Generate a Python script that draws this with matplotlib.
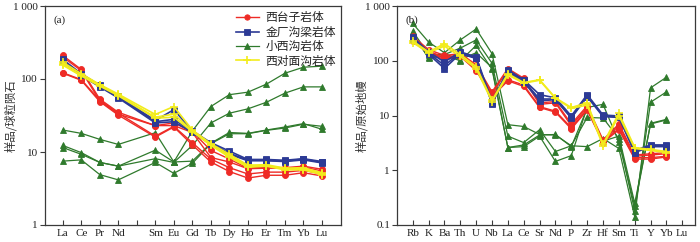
import matplotlib
matplotlib.use("Agg")
import matplotlib.pyplot as plt
from matplotlib.lines import Line2D

# ---------------- data ----------------
ree_ticks = ['La', 'Ce', 'Pr', 'Nd', '', 'Sm', 'Eu', 'Gd', 'Tb', 'Dy', 'Ho', 'Er', 'Tm', 'Yb', 'Lu']
ree_elems = ['La', 'Ce', 'Pr', 'Nd', 'Sm', 'Eu', 'Gd', 'Tb', 'Dy', 'Ho', 'Er', 'Tm', 'Yb', 'Lu']

ree_xitaizi = [
    [210, 135, 53, 35, 23, 25, 19, 10.5, 8.0, 6.0, 6.2, 6.1, 6.4, 5.8],
    [200, 130, 50, 33, 23, 23, 18.5, 8.4, 7.3, 5.9, 6.0, 6.0, 6.2, 5.5],
    [122, 98, 51, 34, 16.5, 22.5, 13.4, 8.0, 6.1, 5.0, 5.3, 5.3, 5.6, 5.0],
    [120, 96, 49, 32, 16, 22, 12.5, 7.3, 5.4, 4.4, 4.8, 4.8, 5.2, 4.7],
]
ree_jinchang = [
    [185, 118, 82, 58, 27, 38, 19.5, 13.4, 10.3, 7.9, 7.9, 7.7, 8.1, 7.4],
    [180, 115, 80, 56, 26, 28, 19, 13, 9.6, 7.7, 7.7, 7.5, 8.0, 7.2],
    [175, 112, 78, 55, 25, 26, 18.5, 12.8, 9.3, 7.6, 7.6, 7.4, 7.8, 7.1],
]
ree_xiaoxigou = [
    [12.3, 9.8, 7.2, 6.4, 10.6, 7.3, 19.4, 42, 61, 66, 85, 120, 145, 150],
    [11.5, 9.3, 7.2, 6.4, 8.1, 7.2, 12.3, 25, 34, 39, 48, 64, 78, 78],
    [20, 18, 14.9, 12.7, 18.4, 7.3, 7.5, 13.2, 18.5, 18, 20, 22, 24.5, 20.5],
    [7.5, 7.8, 4.9, 4.15, 7.2, 5.1, 7.0, 13, 17.8, 17.8, 19.8, 21.3, 24, 22.5],
]
ree_xiduimian = [
    [170, 118, 84, 62, 32.7, 42, 20, 13, 9.3, 6.6, 6.7, 6.0, 6.1, 5.2],
    [160, 112, 82, 60, 30, 33, 19.5, 12.5, 8.8, 6.4, 6.5, 5.8, 5.9, 5.0],
    [155, 110, 80, 59, 29, 30, 19, 12.3, 8.5, 6.2, 6.4, 5.7, 5.7, 4.9],
]

spd_ticks = ['Rb', 'K', 'Ba', 'Th', 'U', 'Nb', 'La', 'Ce', 'Sr', 'Nd', 'P', 'Zr', 'Hf', 'Sm', 'Ti', 'Y', 'Yb', 'Lu']
spd_elems = ['Rb', 'K', 'Ba', 'Th', 'U', 'Nb', 'La', 'Ce', 'Sr', 'Nd', 'P', 'Zr', 'Hf', 'Sm', 'Ti', 'Y', 'Yb']

spd_xitaizi = [
    [280, 160, 125, 135, 85, 27, 72, 48, 17, 18, 7, 15, 3.6, 7, 1.9, 2.0, 2.1],
    [260, 150, 115, 130, 80, 25, 68, 46, 16, 17, 6.5, 14, 3.4, 6.5, 1.8, 1.9, 2.0],
    [240, 140, 110, 125, 70, 24, 45, 36, 14.5, 12, 6, 13, 3.3, 5.8, 1.7, 1.7, 1.8],
    [230, 135, 105, 120, 66, 22, 43, 34, 14, 11.5, 5.7, 12.5, 3.2, 5.5, 1.6, 1.6, 1.75],
]
spd_jinchang = [
    [270, 145, 95, 145, 118, 18, 68, 45, 24, 21, 9.8, 24, 10.2, 9.8, 2.3, 2.9, 2.9],
    [255, 138, 82, 140, 112, 17, 64, 43, 20, 20, 9.2, 23, 9.8, 9.4, 2.2, 2.8, 2.8],
    [245, 132, 72, 135, 110, 16.5, 62, 41, 18.5, 19.5, 9.0, 22, 9.6, 9.2, 2.1, 2.7, 2.7],
]
spd_xiaoxigou = [
    [480, 220, 140, 240, 380, 135, 6.8, 6.3, 4.5, 4.4, 2.8, 2.7, 3.8, 2.5, 0.14, 32, 50],
    [350, 130, 130, 170, 240, 90, 4.2, 3.2, 5.5, 2.2, 2.8, 9.2, 9.0, 3.8, 0.18, 17.5, 27],
    [320, 110, 125, 100, 190, 70, 2.6, 2.7, 4.2, 1.45, 1.85, 14, 16, 3.3, 0.22, 7.2, 8.5],
    [300, 115, 135, 105, 140, 75, 2.6, 2.9, 4.4, 4.5, 2.7, 13.5, 3.4, 4.2, 0.25, 7.0, 8.3],
]
spd_xiduimian = [
    [230, 145, 205, 130, 78, 19, 58, 40, 45, 21, 14, 17, 3.0, 11, 2.6, 2.4, 2.2],
    [215, 140, 185, 120, 72, 18, 55, 39, 44, 20.5, 13.5, 15.5, 2.8, 10, 2.5, 2.3, 2.1],
]

names = ['西台子岩体', '金厂沟梁岩体', '小西沟岩体', '西对面沟岩体']

# ---------------- style ----------------
RED = '#ee2b26'
BLUE = '#2c3a95'
GREEN = '#2f7a2c'
YELLOW = '#f2ec1c'
styles = [
    dict(color=RED, marker='o', ms=4.3, mew=0.6, lw=1.0),
    dict(color=BLUE, marker='s', ms=4.3, mew=0.6, lw=1.2),
    dict(color=GREEN, marker='^', ms=4.5, mew=0.6, lw=0.9),
    dict(color=YELLOW, marker='+', ms=6, mew=1.2, lw=1.2),
]
SERIF = ['Liberation Serif', 'DejaVu Serif']
CJK = ['Noto Sans CJK SC', 'DejaVu Sans']
EDGE = '#3a3a3a'

fig = plt.figure(figsize=(7.0, 2.42), dpi=100)
W, H = 700.0, 242.0
ax1 = fig.add_axes([45 / W, 1 - 225 / H, (341 - 45) / W, (225 - 6) / H])
ax2 = fig.add_axes([397 / W, 1 - 225 / H, (695 - 397) / W, (225 - 6) / H])


def draw(ax, ticks, elems, groups, order):
    xs = [ticks.index(e) for e in elems]
    for gi in order:
        st = styles[gi]
        for row in groups[gi]:
            ax.plot(xs, row, color=st['color'], lw=st['lw'], marker=st['marker'],
                    ms=st['ms'], mew=st['mew'], mfc=st['color'], mec=st['color'])


draw(ax1, ree_ticks, ree_elems,
     [ree_xitaizi, ree_jinchang, ree_xiaoxigou, ree_xiduimian], [2, 0, 1, 3])
draw(ax2, spd_ticks, spd_elems,
     [spd_xitaizi, spd_jinchang, spd_xiaoxigou, spd_xiduimian], [2, 0, 1, 3])

for ax, ticks, ylo, yticks, ylabs, xlim, ylabel, tag, labx in [
    (ax1, ree_ticks, 1, [1, 10, 100, 1000], ['1', '10', '100', '1 000'], (-0.96, 15.03),
     '样品/球粒陨石', '(a)', (17 - 45) / 296),
    (ax2, spd_ticks, 0.1, [0.1, 1, 10, 100, 1000], ['0.1', '1', '10', '100', '1 000'], (-0.99, 17.8),
     '样品/原始地幔', '(b)', (368 - 397) / 298),
]:
    ax.set_yscale('log')
    ax.set_ylim(ylo, 1000)
    ax.set_xlim(*xlim)
    ax.set_yticks(yticks)
    ax.set_yticklabels(ylabs, family=SERIF, fontsize=8)
    ax.yaxis.set_minor_locator(matplotlib.ticker.NullLocator())
    ax.set_xticks(range(len(ticks)))
    ax.set_xticklabels(ticks, family=SERIF, fontsize=8)
    ax.tick_params(axis='x', direction='in', length=3.5, width=0.8, pad=3, colors=EDGE, labelcolor='#222222')
    ax.tick_params(axis='y', direction='out', length=3.5, width=0.8, pad=1.5, colors=EDGE, labelcolor='#222222')
    for s in ax.spines.values():
        s.set_color(EDGE)
        s.set_linewidth(0.9)
    ax.set_ylabel(ylabel, family=CJK, fontsize=8.2, color='#333333')
    ax.yaxis.set_label_coords(labx, 0.5)
    ax.text(0.03, 0.955, tag, transform=ax.transAxes, family=SERIF, fontsize=8,
            va='top', ha='left', color='#222222')

handles = [Line2D([], [], color=st['color'], lw=st['lw'], marker=st['marker'],
                  ms=st['ms'] * 0.9, mew=st['mew'], mfc=st['color'], mec=st['color'])
           for st in styles]
leg = ax1.legend(handles, names, loc='upper right', bbox_to_anchor=(1.0, 1.0),
                 frameon=False, prop={'family': CJK, 'size': 8.5},
                 handlelength=2.0, handletextpad=0.5, labelspacing=0.12,
                 borderpad=0.3, borderaxespad=0.15)
for t in leg.get_texts():
    t.set_color('#222222')

fig.savefig('out.png', dpi=100)
